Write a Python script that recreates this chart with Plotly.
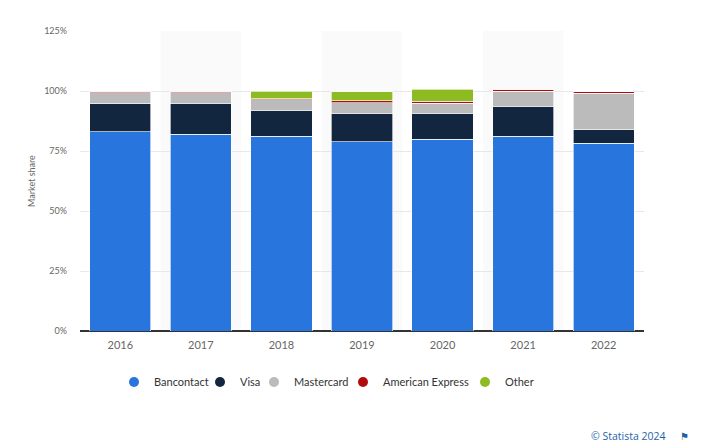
import plotly.graph_objects as go

years = ["2016", "2017", "2018", "2019", "2020", "2021", "2022"]
bancontact = [83.0, 82.0, 81.1, 78.8, 80.0, 81.1, 78.2]
visa = [11.7, 12.8, 10.8, 11.9, 10.7, 12.6, 5.7]
mastercard = [4.5, 4.4, 4.4, 4.4, 4.3, 6.1, 15.1]
amex = [0.6, 0.7, 0.5, 0.9, 0.8, 0.9, 0.6]
other = [0.0, 0.0, 3.0, 3.6, 5.0, 0.0, 0.0]

series = [
    ("Bancontact", bancontact, "#2876DD"),
    ("Visa", visa, "#12263F"),
    ("Mastercard", mastercard, "#BBBBBB"),
    ("American Express", amex, "#B10C0C"),
    ("Other", other, "#8CBC21"),
]
y_ticks = [0, 25, 50, 75, 100, 125]
y_labels = [f"{v}%" for v in y_ticks]

# legend symbol centre positions in pixels (layout)
legend_px = [134, 220, 274, 363, 485]
PLOT_L, PLOT_W = 80, 564

fig = go.Figure()
for name, vals, col in series:
    fig.add_trace(go.Bar(
        x=years, y=vals, name=name, showlegend=False,
        marker=dict(color=col, line=dict(color="rgba(255,255,255,0.8)", width=0.8)),
        hovertemplate="%{x}: %{y}%<extra>" + name + "</extra>",
    ))

legend_layout = {}
for i, ((name, vals, col), px) in enumerate(zip(series, legend_px)):
    key = "legend" if i == 0 else f"legend{i + 1}"
    fig.add_trace(go.Scatter(
        x=[None], y=[None], mode="markers", name=name, legend=key,
        marker=dict(color=col, size=10, symbol="circle"), hoverinfo="skip",
    ))
    legend_layout[key] = dict(
        orientation="h", x=(px - 20 - PLOT_L) / PLOT_W, xanchor="left",
        y=-0.17, yanchor="middle", bgcolor="rgba(0,0,0,0)",
        font=dict(size=11, color="#333333", family="Lato, sans-serif"),
        itemclick=False, itemdoubleclick=False,
    )

shapes = []
for i in (1, 3, 5):
    shapes.append(dict(type="rect", xref="x", yref="paper", x0=i - 0.5, x1=i + 0.5,
                       y0=0, y1=1, fillcolor="#fafafa", line=dict(width=0), layer="below"))

fig.update_layout(
    width=720, height=445, autosize=False,
    margin=dict(l=80, r=76, t=31, b=114),
    paper_bgcolor="white", plot_bgcolor="white",
    barmode="stack", bargap=0.24,
    font=dict(family="Lato, 'Open Sans', sans-serif", color="#666666"),
    shapes=shapes,
    showlegend=True,
    xaxis=dict(type="category", tickfont=dict(size=11, color="#666666"),
               showgrid=False, ticks="", showline=False, ticklabelstandoff=6),
    yaxis=dict(range=[0, 125], tickmode="array", tickvals=y_ticks, ticktext=y_labels,
               tickfont=dict(size=9, color="#666666"), ticklabelstandoff=12,
               showgrid=True, gridcolor="#e8e8e8", gridwidth=1,
               zeroline=True, zerolinecolor="#333333", zerolinewidth=1.5,
               title=dict(text="Market share", font=dict(size=9, color="#666666"), standoff=6)),
    annotations=[
        dict(text="© Statista 2024", xref="paper", yref="paper", x=1.043, y=-0.35,
             xanchor="right", yanchor="middle", showarrow=False,
             font=dict(size=10.5, color="#1f5fa8", family="'Open Sans', sans-serif")),
        dict(text="⚑", xref="paper", yref="paper", x=1.072, y=-0.35,
             xanchor="center", yanchor="middle", showarrow=False,
             font=dict(size=10, color="#1f5fa8")),
    ],
    **legend_layout,
)

fig.write_html("out.html", config={"displayModeBar": False},
               post_script="document.body.style.margin='0';")
